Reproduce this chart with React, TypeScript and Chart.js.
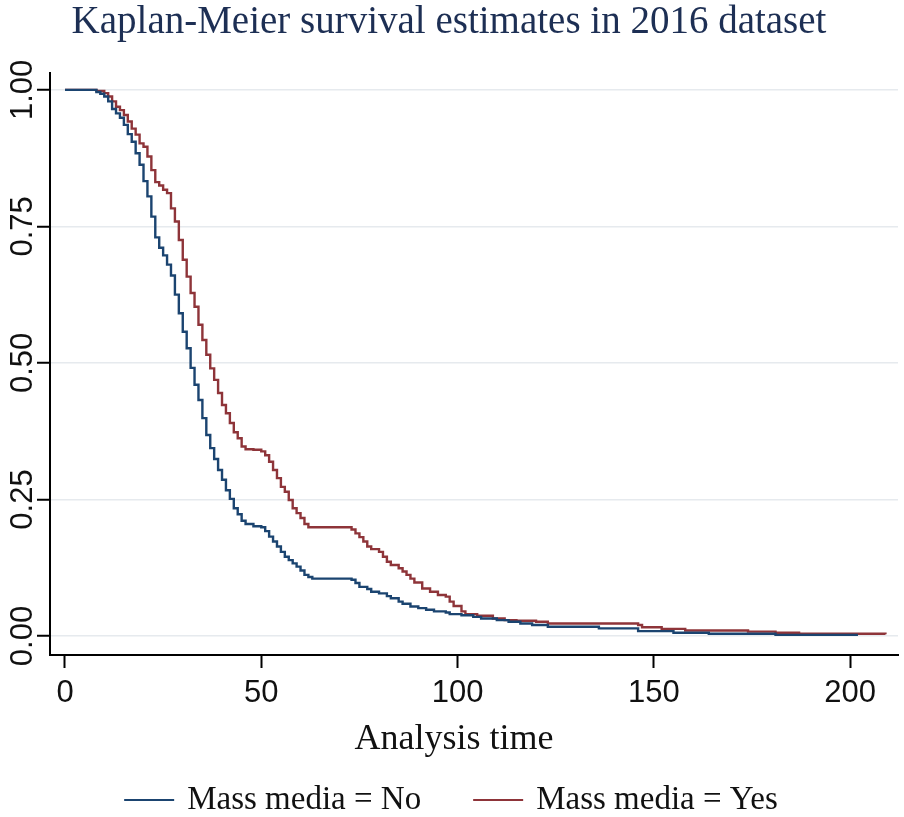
import React, { useEffect, useRef } from 'react';
import { Chart, registerables } from 'chart.js';

Chart.register(...registerables);

const chartTitle = 'Kaplan-Meier survival estimates in 2016 dataset';
const xAxisTitle = 'Analysis time';
const seriesLabels = ['Mass media = No', 'Mass media = Yes'];
const seriesColors = ['#1b4470', '#8e3439'];
const xTickValues = [0, 50, 100, 150, 200];
const yTickValues = [0, 0.25, 0.5, 0.75, 1];
const yTickLabels = ['0.00', '0.25', '0.50', '0.75', '1.00'];

const noTimes = [0, 8, 9, 10, 11, 12, 13, 14, 15, 16, 17, 18, 19, 20, 21, 22, 23, 24, 25, 26, 27, 28, 29, 30, 31, 32, 33, 34, 35, 36, 37, 38, 39, 40, 41, 42, 43, 44, 45, 46, 48, 50, 51, 52, 53, 54, 55, 56, 57, 58, 59, 60, 61, 62, 63, 73, 74, 75, 77, 78, 80, 82, 83, 85, 86, 88, 90, 92, 94, 97, 98, 101, 104, 106, 110, 113, 116, 119, 123, 136, 146, 155, 164, 181, 202];
const noSurv = [1, 0.996, 0.993, 0.988, 0.979, 0.965, 0.957, 0.949, 0.936, 0.919, 0.905, 0.884, 0.863, 0.833, 0.805, 0.768, 0.73, 0.711, 0.697, 0.68, 0.66, 0.625, 0.591, 0.557, 0.527, 0.491, 0.46, 0.432, 0.399, 0.368, 0.344, 0.324, 0.304, 0.286, 0.267, 0.251, 0.234, 0.223, 0.211, 0.205, 0.201, 0.199, 0.192, 0.182, 0.173, 0.164, 0.154, 0.145, 0.139, 0.133, 0.127, 0.12, 0.112, 0.108, 0.105, 0.103, 0.097, 0.09, 0.086, 0.081, 0.078, 0.073, 0.069, 0.063, 0.059, 0.054, 0.051, 0.048, 0.045, 0.043, 0.04, 0.038, 0.035, 0.032, 0.029, 0.026, 0.023, 0.02, 0.017, 0.014, 0.009, 0.006, 0.004, 0.002, 0.002];

const yesTimes = [0, 8, 10, 11, 12, 13, 14, 15, 16, 17, 18, 19, 20, 21, 22, 23, 24, 25, 26, 27, 28, 29, 30, 31, 32, 33, 34, 35, 36, 37, 38, 39, 40, 41, 42, 43, 44, 45, 46, 48, 50, 51, 52, 53, 54, 55, 56, 57, 58, 59, 60, 61, 62, 73, 74, 75, 76, 77, 78, 80, 81, 82, 83, 85, 86, 87, 88, 89, 91, 93, 95, 97, 98, 99, 101, 102, 105, 109, 112, 115, 120, 123, 146, 147, 152, 158, 174, 181, 187, 209];
const yesSurv = [1, 0.998, 0.994, 0.988, 0.979, 0.969, 0.963, 0.954, 0.942, 0.929, 0.918, 0.902, 0.896, 0.878, 0.853, 0.831, 0.825, 0.817, 0.811, 0.783, 0.759, 0.725, 0.689, 0.658, 0.628, 0.603, 0.57, 0.542, 0.515, 0.49, 0.469, 0.445, 0.423, 0.408, 0.39, 0.373, 0.362, 0.347, 0.342, 0.341, 0.338, 0.331, 0.319, 0.304, 0.289, 0.273, 0.264, 0.249, 0.234, 0.225, 0.216, 0.205, 0.199, 0.195, 0.188, 0.181, 0.173, 0.164, 0.159, 0.154, 0.145, 0.136, 0.13, 0.124, 0.118, 0.112, 0.105, 0.098, 0.087, 0.081, 0.075, 0.072, 0.063, 0.055, 0.045, 0.04, 0.037, 0.032, 0.029, 0.028, 0.026, 0.023, 0.02, 0.016, 0.013, 0.01, 0.008, 0.006, 0.004, 0.003];

const toPoints = (ts: number[], ss: number[]) => ts.map((t, i) => ({ x: t, y: ss[i] }));

const stataText = {
  id: 'stataText',
  afterDraw(chart: any) {
    const ctx = chart.ctx as CanvasRenderingContext2D;
    const ys = chart.scales.y;
    ctx.save();
    ctx.fillStyle = '#111';
    ctx.font = '31px "Liberation Sans"';
    ctx.textAlign = 'center';
    ctx.textBaseline = 'middle';
    yTickValues.forEach((v, i) => {
      const py = ys.getPixelForValue(v);
      ctx.save();
      ctx.translate(23, py);
      ctx.rotate(-Math.PI / 2);
      ctx.fillText(yTickLabels[i], 0, 0);
      ctx.restore();
    });
    ctx.font = '36px "Liberation Serif"';
    ctx.fillText(xAxisTitle, 454, 740);

    ctx.font = '33px "Liberation Serif"';
    const lineW = 50, gap = 13, itemGap = 52;
    const ds = chart.data.datasets;
    const widths = ds.map((d: any) => lineW + gap + ctx.measureText(d.label).width);
    const total = widths.reduce((a: number, b: number) => a + b, 0) + itemGap * (ds.length - 1);
    let x = 451 - total / 2;
    const ly = 800;
    ctx.textAlign = 'left';
    ds.forEach((d: any, i: number) => {
      ctx.strokeStyle = d.borderColor;
      ctx.lineWidth = 2;
      ctx.beginPath();
      ctx.moveTo(x, ly);
      ctx.lineTo(x + lineW, ly);
      ctx.stroke();
      ctx.fillText(d.label, x + lineW + gap, ly);
      x += widths[i] + itemGap;
    });
    ctx.restore();
  },
};

export default function App() {
  const ref = useRef<HTMLCanvasElement | null>(null);
  useEffect(() => {
    if (!ref.current) return;
    const chart = new Chart(ref.current, {
      type: 'line',
      data: {
        datasets: [
          {
            label: seriesLabels[0],
            data: toPoints(noTimes, noSurv),
            borderColor: seriesColors[0],
            borderWidth: 2.4,
            pointRadius: 0,
            stepped: true,
            fill: false,
          },
          {
            label: seriesLabels[1],
            data: toPoints(yesTimes, yesSurv),
            borderColor: seriesColors[1],
            borderWidth: 2.4,
            pointRadius: 0,
            stepped: true,
            fill: false,
          },
        ],
      },
      options: {
        responsive: false,
        animation: false,
        devicePixelRatio: 1,
        layout: { padding: { left: 0, right: 6, top: 0, bottom: 0 } },
        plugins: {
          legend: { display: false },
          tooltip: { enabled: false },
          title: {
            display: true,
            text: chartTitle,
            color: '#1d2f54',
            font: { family: '"Liberation Serif"', size: 39, weight: 'normal', lineHeight: 1.15 },
            padding: { top: 0, bottom: 28.1 },
          },
        },
        scales: {
          x: {
            type: 'linear',
            min: -3.82,
            max: 212.2,
            afterBuildTicks: (s: any) => {
              s.ticks = xTickValues.map((v) => ({ value: v }));
            },
            afterFit: (s: any) => {
              s.height = 162;
            },
            grid: {
              drawOnChartArea: false,
              drawTicks: true,
              tickLength: 13,
              tickColor: '#000',
              tickWidth: 2,
            },
            border: { display: true, color: '#000', width: 2 },
            ticks: {
              color: '#111',
              padding: 7,
              maxRotation: 0,
              autoSkip: false,
              font: { family: '"Liberation Sans"', size: 31, lineHeight: 1.2 },
              callback: (v: any) => String(v),
            },
          },
          y: {
            type: 'linear',
            min: -0.0348,
            max: 1.031,
            afterBuildTicks: (s: any) => {
              s.ticks = yTickValues.map((v) => ({ value: v }));
            },
            afterFit: (s: any) => {
              s.width = 50;
            },
            grid: {
              color: '#e6eaee',
              lineWidth: 1.5,
              drawTicks: true,
              tickLength: 13,
              tickColor: '#000',
              tickWidth: 2,
            },
            border: { display: true, color: '#000', width: 2 },
            ticks: { display: false },
          },
        },
      },
      plugins: [stataText],
    });
    return () => chart.destroy();
  }, []);
  return (
    <div style={{ position: 'fixed', left: 0, top: 0, width: 904, height: 817, background: '#fff' }}>
      <canvas ref={ref} width={904} height={817} style={{ display: 'block' }} />
    </div>
  );
}
